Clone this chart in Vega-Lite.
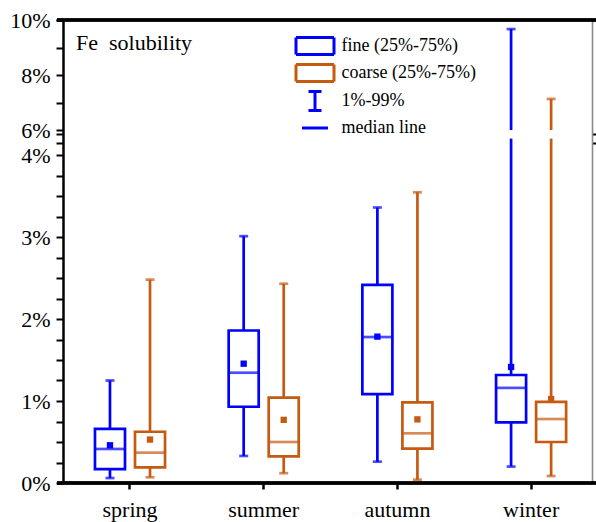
{
  "$schema": "https://vega.github.io/schema/vega-lite/v6.json",
  "width": 539,
  "height": 475,
  "autosize": {"type": "none"},
  "padding": {"left": 57, "top": 14, "right": 0, "bottom": 33},
  "background": "white",
  "config": {"view": {"stroke": null}, "font": "Liberation Serif", "axis": {"grid": false, "zindex": 1}},
  "title": {"text": "Fe\u00a0\u00a0solubility", "anchor": "start", "orient": "top", "frame": "group", "font": "Liberation Serif", "fontSize": 22, "fontWeight": "normal", "color": "black", "offset": 0, "baseline": "alphabetic", "dx": 19, "dy": 63},
  "data": {"values": [
    {"season": "spring", "type": "fine", "p1": 0.06, "q1": 0.17, "median": 0.415, "mean": 0.46, "q3": 0.66, "p99": 1.25},
    {"season": "spring", "type": "coarse", "p1": 0.07, "q1": 0.19, "median": 0.37, "mean": 0.53, "q3": 0.625, "p99": 2.48},
    {"season": "summer", "type": "fine", "p1": 0.33, "q1": 0.93, "median": 1.345, "mean": 1.455, "q3": 1.86, "p99": 3.01},
    {"season": "summer", "type": "coarse", "p1": 0.12, "q1": 0.325, "median": 0.5, "mean": 0.77, "q3": 1.04, "p99": 2.43},
    {"season": "autumn", "type": "fine", "p1": 0.26, "q1": 1.085, "median": 1.78, "mean": 1.785, "q3": 2.415, "p99": 3.36},
    {"season": "autumn", "type": "coarse", "p1": 0.04, "q1": 0.42, "median": 0.606, "mean": 0.776, "q3": 0.984, "p99": 3.545},
    {"season": "winter", "type": "fine", "p1": 0.2, "q1": 0.74, "median": 1.16, "mean": 1.415, "q3": 1.317, "p99": 9.67},
    {"season": "winter", "type": "coarse", "p1": 0.085, "q1": 0.5, "median": 0.78, "mean": 1.024, "q3": 0.99, "p99": 7.13}
  ]},
  "resolve": {"axis": {"x": "independent", "y": "independent"}},
  "layer": [
    {
      "mark": {"type": "rule", "strokeWidth": 2.7},
      "encoding": {
        "x": {"field": "season", "type": "nominal", "sort": ["spring", "summer", "autumn", "winter"], "scale": {"type": "band", "paddingInner": 0.476, "paddingOuter": 0.2537, "align": 0.5597},
          "axis": {"orient": "bottom", "offset": -6, "title": null, "domain": false, "labelFont": "Liberation Serif", "labelFontSize": 22, "labelColor": "black", "labelPadding": 10, "labelAngle": 0, "tickSize": 6, "tickWidth": 2.5, "tickColor": "black"}},
        "xOffset": {"field": "type", "type": "nominal", "sort": ["fine", "coarse"], "scale": {"paddingInner": 0.25, "paddingOuter": 0}},
        "y": {"field": "p1", "type": "quantitative", "scale": {"domain": [0, 4.2, 6, 10], "range": [469, 124.6, 116, 6], "nice": false, "zero": false},
          "axis": {"orient": "left", "offset": -6, "title": null, "domain": true, "domainColor": "black", "domainWidth": 2.5,
            "values": [0, 0.25, 0.5, 0.75, 1, 1.25, 1.5, 1.75, 2, 2.25, 2.5, 2.75, 3, 3.25, 3.5, 3.75, 4, 4.152, 5.16, 6, 7, 8, 9, 9.999, 10],
            "labelExpr": "((datum.value <= 4 && datum.value % 1 == 0) || (datum.value >= 6 && datum.value % 2 == 0)) ? datum.value + '%' : ''",
            "labelFont": "Liberation Serif", "labelFontSize": 22, "labelColor": "black", "labelPadding": 6, "labelOverlap": false, "labelFlush": false,
            "tickSize": 7, "tickWidth": 2, "tickColor": "black",
            "encode": {"ticks": {"update": {
              "x": {"signal": "(datum.value > 4.1 && datum.value < 5.9) ? -8 : 0"},
              "x2": {"signal": "datum.value == 9.999 ? 0.01 : ((datum.value > 4.1 && datum.value < 5.9) ? 8 : (((datum.value < 4.1 ? datum.value % 1 : datum.value % 2) != 0) ? -4 : -7))"},
              "y": {"signal": "datum.value == 9.999 ? scale('y', 0) : scale('y', datum.value)"},
              "y2": {"signal": "datum.value == 9.999 ? scale('y', 10) : scale('y', datum.value) - ((datum.value > 4.1 && datum.value < 5.9) ? 6 : 0)"},
              "strokeWidth": {"signal": "datum.value == 9.999 ? 2.5 : 2"}
            }}}
          }},
        "y2": {"field": "p99"},
        "color": {"field": "type", "type": "nominal", "scale": {"domain": ["fine", "coarse"], "range": ["#0000ff", "#c55a11"]}, "legend": null},
        "strokeDash": {"datum": "1%-99%", "type": "nominal", "scale": {"domain": ["fine (25%-75%)", "coarse (25%-75%)", "1%-99%", "median line"], "range": [[1, 0], [1, 0], [1, 0], [1, 0]]},
          "legend": {"orient": "none", "legendX": 246.5, "legendY": 20.5, "title": null, "direction": "vertical", "symbolSize": 400, "symbolStrokeWidth": 3,
            "labelFont": "Liberation Serif", "labelFontSize": 18, "labelColor": "black", "labelOffset": 15, "rowPadding": -2, "padding": 0,
            "encode": {"symbols": {"update": {
              "shape": {"signal": "datum.value === '1%-99%' ? 'M-0.65,-0.95H0.65M0,-0.95V0.95M-0.65,0.95H0.65' : (datum.value === 'median line' ? 'M-1.3,0H1.3' : 'M-1.9,-0.85H1.9V0.85H-1.9Z')"},
              "stroke": {"signal": "datum.value === 'coarse (25%-75%)' ? '#c55a11' : '#0000ff'"},
              "strokeWidth": {"value": 3},
              "strokeDash": {"value": [1, 0]},
              "fill": {"signal": "(datum.value === 'fine (25%-75%)' || datum.value === 'coarse (25%-75%)') ? 'white' : 'transparent'"},
              "opacity": {"value": 1}
            }}}}}
      }
    },
    {
      "mark": {"type": "rule", "color": "black", "strokeWidth": 2.5},
      "encoding": {
        "y": {"datum": 0, "type": "quantitative", "scale": {"domain": [0, 4.2, 6, 10], "range": [469, 124.6, 116, 6], "nice": false, "zero": false}, "axis": null}
      }
    },
    {
      "mark": {"type": "rule", "color": "black", "strokeWidth": 2.5},
      "encoding": {
        "y": {"datum": 10, "type": "quantitative", "scale": {"domain": [0, 4.2, 6, 10], "range": [469, 124.6, 116, 6], "nice": false, "zero": false}, "axis": null}
      }
    },
    {
      "mark": {"type": "rect", "fill": "white"},
      "encoding": {
        "x": {"field": "season", "type": "nominal", "sort": ["spring", "summer", "autumn", "winter"], "scale": {"type": "band", "paddingInner": 0.476, "paddingOuter": 0.2537, "align": 0.5597}, "axis": null},
        "xOffset": {"field": "type", "type": "nominal", "sort": ["fine", "coarse"], "scale": {"paddingInner": 0.25, "paddingOuter": 0}},
        "y": {"datum": 4.2, "type": "quantitative", "scale": {"domain": [0, 4.2, 6, 10], "range": [469, 124.6, 116, 6], "nice": false, "zero": false},
          "axis": {"orient": "right", "offset": -4, "title": null, "domain": true, "domainColor": "#8a8a8a", "domainWidth": 1.6, "values": [4.152, 5.16, 9.999], "labels": false, "tickSize": 8, "tickWidth": 2, "tickColor": "black",
            "encode": {"ticks": {"update": {
              "x": {"signal": "datum.value == 9.999 ? 0 : -8"},
              "x2": {"signal": "datum.value == 9.999 ? 0.01 : 8"},
              "y": {"signal": "datum.value == 9.999 ? scale('y', 0) : scale('y', datum.value)"},
              "y2": {"signal": "datum.value == 9.999 ? scale('y', 10) : scale('y', datum.value) - 6"},
              "stroke": {"signal": "datum.value == 9.999 ? '#8a8a8a' : 'black'"},
              "strokeWidth": {"signal": "datum.value == 9.999 ? 1.6 : 2"}
            }}}}},
        "y2": {"datum": 6}
      }
    },
    {
      "mark": {"type": "tick", "orient": "horizontal", "size": 9, "thickness": 2.7},
      "encoding": {
        "x": {"field": "season", "type": "nominal", "sort": ["spring", "summer", "autumn", "winter"], "scale": {"type": "band", "paddingInner": 0.476, "paddingOuter": 0.2537, "align": 0.5597}, "axis": null},
        "xOffset": {"field": "type", "type": "nominal", "sort": ["fine", "coarse"], "scale": {"paddingInner": 0.25, "paddingOuter": 0}},
        "y": {"field": "p99", "type": "quantitative", "scale": {"domain": [0, 4.2, 6, 10], "range": [469, 124.6, 116, 6], "nice": false, "zero": false}, "axis": null},
        "fill": {"field": "type", "type": "nominal", "scale": {"domain": ["fine", "coarse"], "range": ["#0000ff", "#c55a11"]}, "legend": null}
      }
    },
    {
      "mark": {"type": "tick", "orient": "horizontal", "size": 9, "thickness": 2.7},
      "encoding": {
        "x": {"field": "season", "type": "nominal", "sort": ["spring", "summer", "autumn", "winter"], "scale": {"type": "band", "paddingInner": 0.476, "paddingOuter": 0.2537, "align": 0.5597}, "axis": null},
        "xOffset": {"field": "type", "type": "nominal", "sort": ["fine", "coarse"], "scale": {"paddingInner": 0.25, "paddingOuter": 0}},
        "y": {"field": "p1", "type": "quantitative", "scale": {"domain": [0, 4.2, 6, 10], "range": [469, 124.6, 116, 6], "nice": false, "zero": false}, "axis": null},
        "fill": {"field": "type", "type": "nominal", "scale": {"domain": ["fine", "coarse"], "range": ["#0000ff", "#c55a11"]}, "legend": null}
      }
    },
    {
      "mark": {"type": "bar", "filled": false, "fill": "white", "strokeWidth": 2.7},
      "encoding": {
        "x": {"field": "season", "type": "nominal", "sort": ["spring", "summer", "autumn", "winter"], "scale": {"type": "band", "paddingInner": 0.476, "paddingOuter": 0.2537, "align": 0.5597}, "axis": null},
        "xOffset": {"field": "type", "type": "nominal", "sort": ["fine", "coarse"], "scale": {"paddingInner": 0.25, "paddingOuter": 0}},
        "y": {"field": "q1", "type": "quantitative", "scale": {"domain": [0, 4.2, 6, 10], "range": [469, 124.6, 116, 6], "nice": false, "zero": false}, "axis": null},
        "y2": {"field": "q3"},
        "color": {"field": "type", "type": "nominal", "scale": {"domain": ["fine", "coarse"], "range": ["#0000ff", "#c55a11"]}, "legend": null}
      }
    },
    {
      "mark": {"type": "tick", "orient": "horizontal", "size": 31, "thickness": 2.7},
      "encoding": {
        "x": {"field": "season", "type": "nominal", "sort": ["spring", "summer", "autumn", "winter"], "scale": {"type": "band", "paddingInner": 0.476, "paddingOuter": 0.2537, "align": 0.5597}, "axis": null},
        "xOffset": {"field": "type", "type": "nominal", "sort": ["fine", "coarse"], "scale": {"paddingInner": 0.25, "paddingOuter": 0}},
        "y": {"field": "median", "type": "quantitative", "scale": {"domain": [0, 4.2, 6, 10], "range": [469, 124.6, 116, 6], "nice": false, "zero": false}, "axis": null},
        "fill": {"field": "type", "type": "nominal", "scale": {"domain": ["fine", "coarse"], "range": ["#0000ff", "#c55a11"]}, "legend": null}
      }
    },
    {
      "mark": {"type": "point", "shape": "square", "size": 40, "opacity": 1, "strokeWidth": 0},
      "encoding": {
        "x": {"field": "season", "type": "nominal", "sort": ["spring", "summer", "autumn", "winter"], "scale": {"type": "band", "paddingInner": 0.476, "paddingOuter": 0.2537, "align": 0.5597}, "axis": null},
        "xOffset": {"field": "type", "type": "nominal", "sort": ["fine", "coarse"], "scale": {"paddingInner": 0.25, "paddingOuter": 0}},
        "y": {"field": "mean", "type": "quantitative", "scale": {"domain": [0, 4.2, 6, 10], "range": [469, 124.6, 116, 6], "nice": false, "zero": false}, "axis": null},
        "fill": {"field": "type", "type": "nominal", "scale": {"domain": ["fine", "coarse"], "range": ["#0000ff", "#c55a11"]}, "legend": null}
      }
    }
  ]
}
